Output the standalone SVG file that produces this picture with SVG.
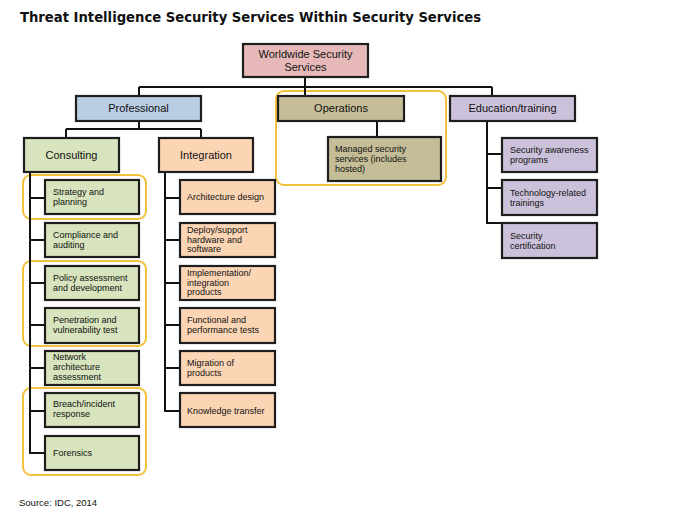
<svg xmlns="http://www.w3.org/2000/svg" width="686" height="526" viewBox="0 0 686 526">
<style>
.bx{stroke:#1e1e1e;stroke-width:2.2}
.pink{fill:#E6B9B8}.blue{fill:#B9CDE5}.olive{fill:#C4BD97}.purple{fill:#CCC1DA}.green{fill:#D7E4BD}.peach{fill:#FCD5B5}
.hl{fill:none;stroke:#F2C13A;stroke-width:2}
.ln{fill:none;stroke:#111;stroke-width:2}
.t1{font-family:"Liberation Sans",Arial,sans-serif;font-size:11px;fill:#111;text-anchor:middle}
.t2{font-family:"Liberation Sans",Arial,sans-serif;font-size:9px;fill:#111}
.title{font-family:"DejaVu Sans","Liberation Sans",sans-serif;font-size:14.5px;font-weight:bold;fill:#111}
.src{font-family:"Liberation Sans",Arial,sans-serif;font-size:9.5px;fill:#111}
</style>
<rect width="686" height="526" fill="#fff"/>
<text class="title" x="20" y="22" textLength="461" lengthAdjust="spacingAndGlyphs">Threat Intelligence Security Services Within Security Services</text>

<g id="highlights">
<rect class="hl" x="276" y="91" width="170" height="94" rx="8"/>
<rect class="hl" x="23" y="175" width="123" height="44" rx="8"/>
<rect class="hl" x="23" y="261" width="123" height="85" rx="8"/>
<rect class="hl" x="23" y="388" width="123" height="87" rx="8"/>
</g>

<g id="connectors">
<path class="ln" d="M305 77V87M139 87H492M139 87V96M305 87V96M492 87V96"/>
<path class="ln" d="M139 121V129M66 129H201M66 129V138M201 129V138"/>
<path class="ln" d="M377 121V137"/>
<path class="ln" d="M487 121V223H502M487 154H502M487 188H502"/>
<path class="ln" d="M30 172V453H45M30 198H45M30 240H45M30 283H45M30 325H45M30 368H45M30 411H45"/>
<path class="ln" d="M165 172V411H180M165 198H180M165 240H180M165 283H180M165 325H180M165 368H180"/>
</g>

<g id="root">
<rect class="bx pink" x="243" y="44" width="125" height="33"/>
<text class="t1" x="305.5" y="58">Worldwide Security</text>
<text class="t1" x="305.5" y="71">Services</text>
</g>

<g id="professional">
<rect class="bx blue" x="76" y="96" width="125" height="25"/>
<text class="t1" x="138.5" y="112">Professional</text>
</g>
<g id="operations">
<rect class="bx olive" x="278" y="96" width="126" height="25"/>
<text class="t1" x="341" y="112">Operations</text>
</g>
<g id="education">
<rect class="bx purple" x="450" y="96" width="125" height="25"/>
<text class="t1" x="512.5" y="112">Education/training</text>
</g>

<g id="consulting">
<rect class="bx green" x="24" y="138" width="95" height="34"/>
<text class="t1" x="71.5" y="159">Consulting</text>
</g>
<g id="integration">
<rect class="bx peach" x="159" y="138" width="94" height="34"/>
<text class="t1" x="206" y="159">Integration</text>
</g>

<g id="managed">
<rect class="bx olive" x="328" y="137" width="113" height="44"/>
<text class="t2" x="335" y="152">Managed security</text>
<text class="t2" x="335" y="162">services (includes</text>
<text class="t2" x="335" y="172">hosted)</text>
</g>

<g id="edu1">
<rect class="bx purple" x="502" y="138" width="95" height="34"/>
<text class="t2" x="510" y="153">Security awareness</text>
<text class="t2" x="510" y="163">programs</text>
</g>
<g id="edu2">
<rect class="bx purple" x="502" y="180" width="95" height="35"/>
<text class="t2" x="510" y="196">Technology-related</text>
<text class="t2" x="510" y="206">trainings</text>
</g>
<g id="edu3">
<rect class="bx purple" x="502" y="223" width="95" height="35"/>
<text class="t2" x="510" y="239">Security</text>
<text class="t2" x="510" y="249">certification</text>
</g>

<g id="strategy">
<rect class="bx green" x="45" y="180" width="94" height="34"/>
<text class="t2" x="53" y="195">Strategy and</text>
<text class="t2" x="53" y="205">planning</text>
</g>
<g id="compliance">
<rect class="bx green" x="45" y="223" width="94" height="34"/>
<text class="t2" x="53" y="238">Compliance and</text>
<text class="t2" x="53" y="248">auditing</text>
</g>
<g id="policy">
<rect class="bx green" x="45" y="266" width="94" height="34"/>
<text class="t2" x="53" y="281">Policy assessment</text>
<text class="t2" x="53" y="291">and development</text>
</g>
<g id="penetration">
<rect class="bx green" x="45" y="308" width="94" height="35"/>
<text class="t2" x="53" y="323">Penetration and</text>
<text class="t2" x="53" y="333">vulnerability test</text>
</g>
<g id="network">
<rect class="bx green" x="45" y="351" width="94" height="34"/>
<text class="t2" x="53" y="360">Network</text>
<text class="t2" x="53" y="370">architecture</text>
<text class="t2" x="53" y="380">assessment</text>
</g>
<g id="breach">
<rect class="bx green" x="45" y="393" width="94" height="34"/>
<text class="t2" x="53" y="407">Breach/incident</text>
<text class="t2" x="53" y="417">response</text>
</g>
<g id="forensics">
<rect class="bx green" x="45" y="436" width="94" height="34"/>
<text class="t2" x="53" y="456">Forensics</text>
</g>

<g id="architecture">
<rect class="bx peach" x="180" y="180" width="95" height="34"/>
<text class="t2" x="187" y="200">Architecture design</text>
</g>
<g id="deploy">
<rect class="bx peach" x="180" y="223" width="95" height="34"/>
<text class="t2" x="187" y="233">Deploy/support</text>
<text class="t2" x="187" y="243">hardware and</text>
<text class="t2" x="187" y="252">software</text>
</g>
<g id="implementation">
<rect class="bx peach" x="180" y="266" width="95" height="34"/>
<text class="t2" x="187" y="276">Implementation/</text>
<text class="t2" x="187" y="286">integration</text>
<text class="t2" x="187" y="295">products</text>
</g>
<g id="functional">
<rect class="bx peach" x="180" y="308" width="95" height="35"/>
<text class="t2" x="187" y="323">Functional and</text>
<text class="t2" x="187" y="333">performance tests</text>
</g>
<g id="migration">
<rect class="bx peach" x="180" y="351" width="95" height="34"/>
<text class="t2" x="187" y="366">Migration of</text>
<text class="t2" x="187" y="376">products</text>
</g>
<g id="knowledge">
<rect class="bx peach" x="180" y="393" width="95" height="34"/>
<text class="t2" x="187" y="414">Knowledge transfer</text>
</g>

<text class="src" x="19" y="506">Source: IDC, 2014</text>
</svg>
